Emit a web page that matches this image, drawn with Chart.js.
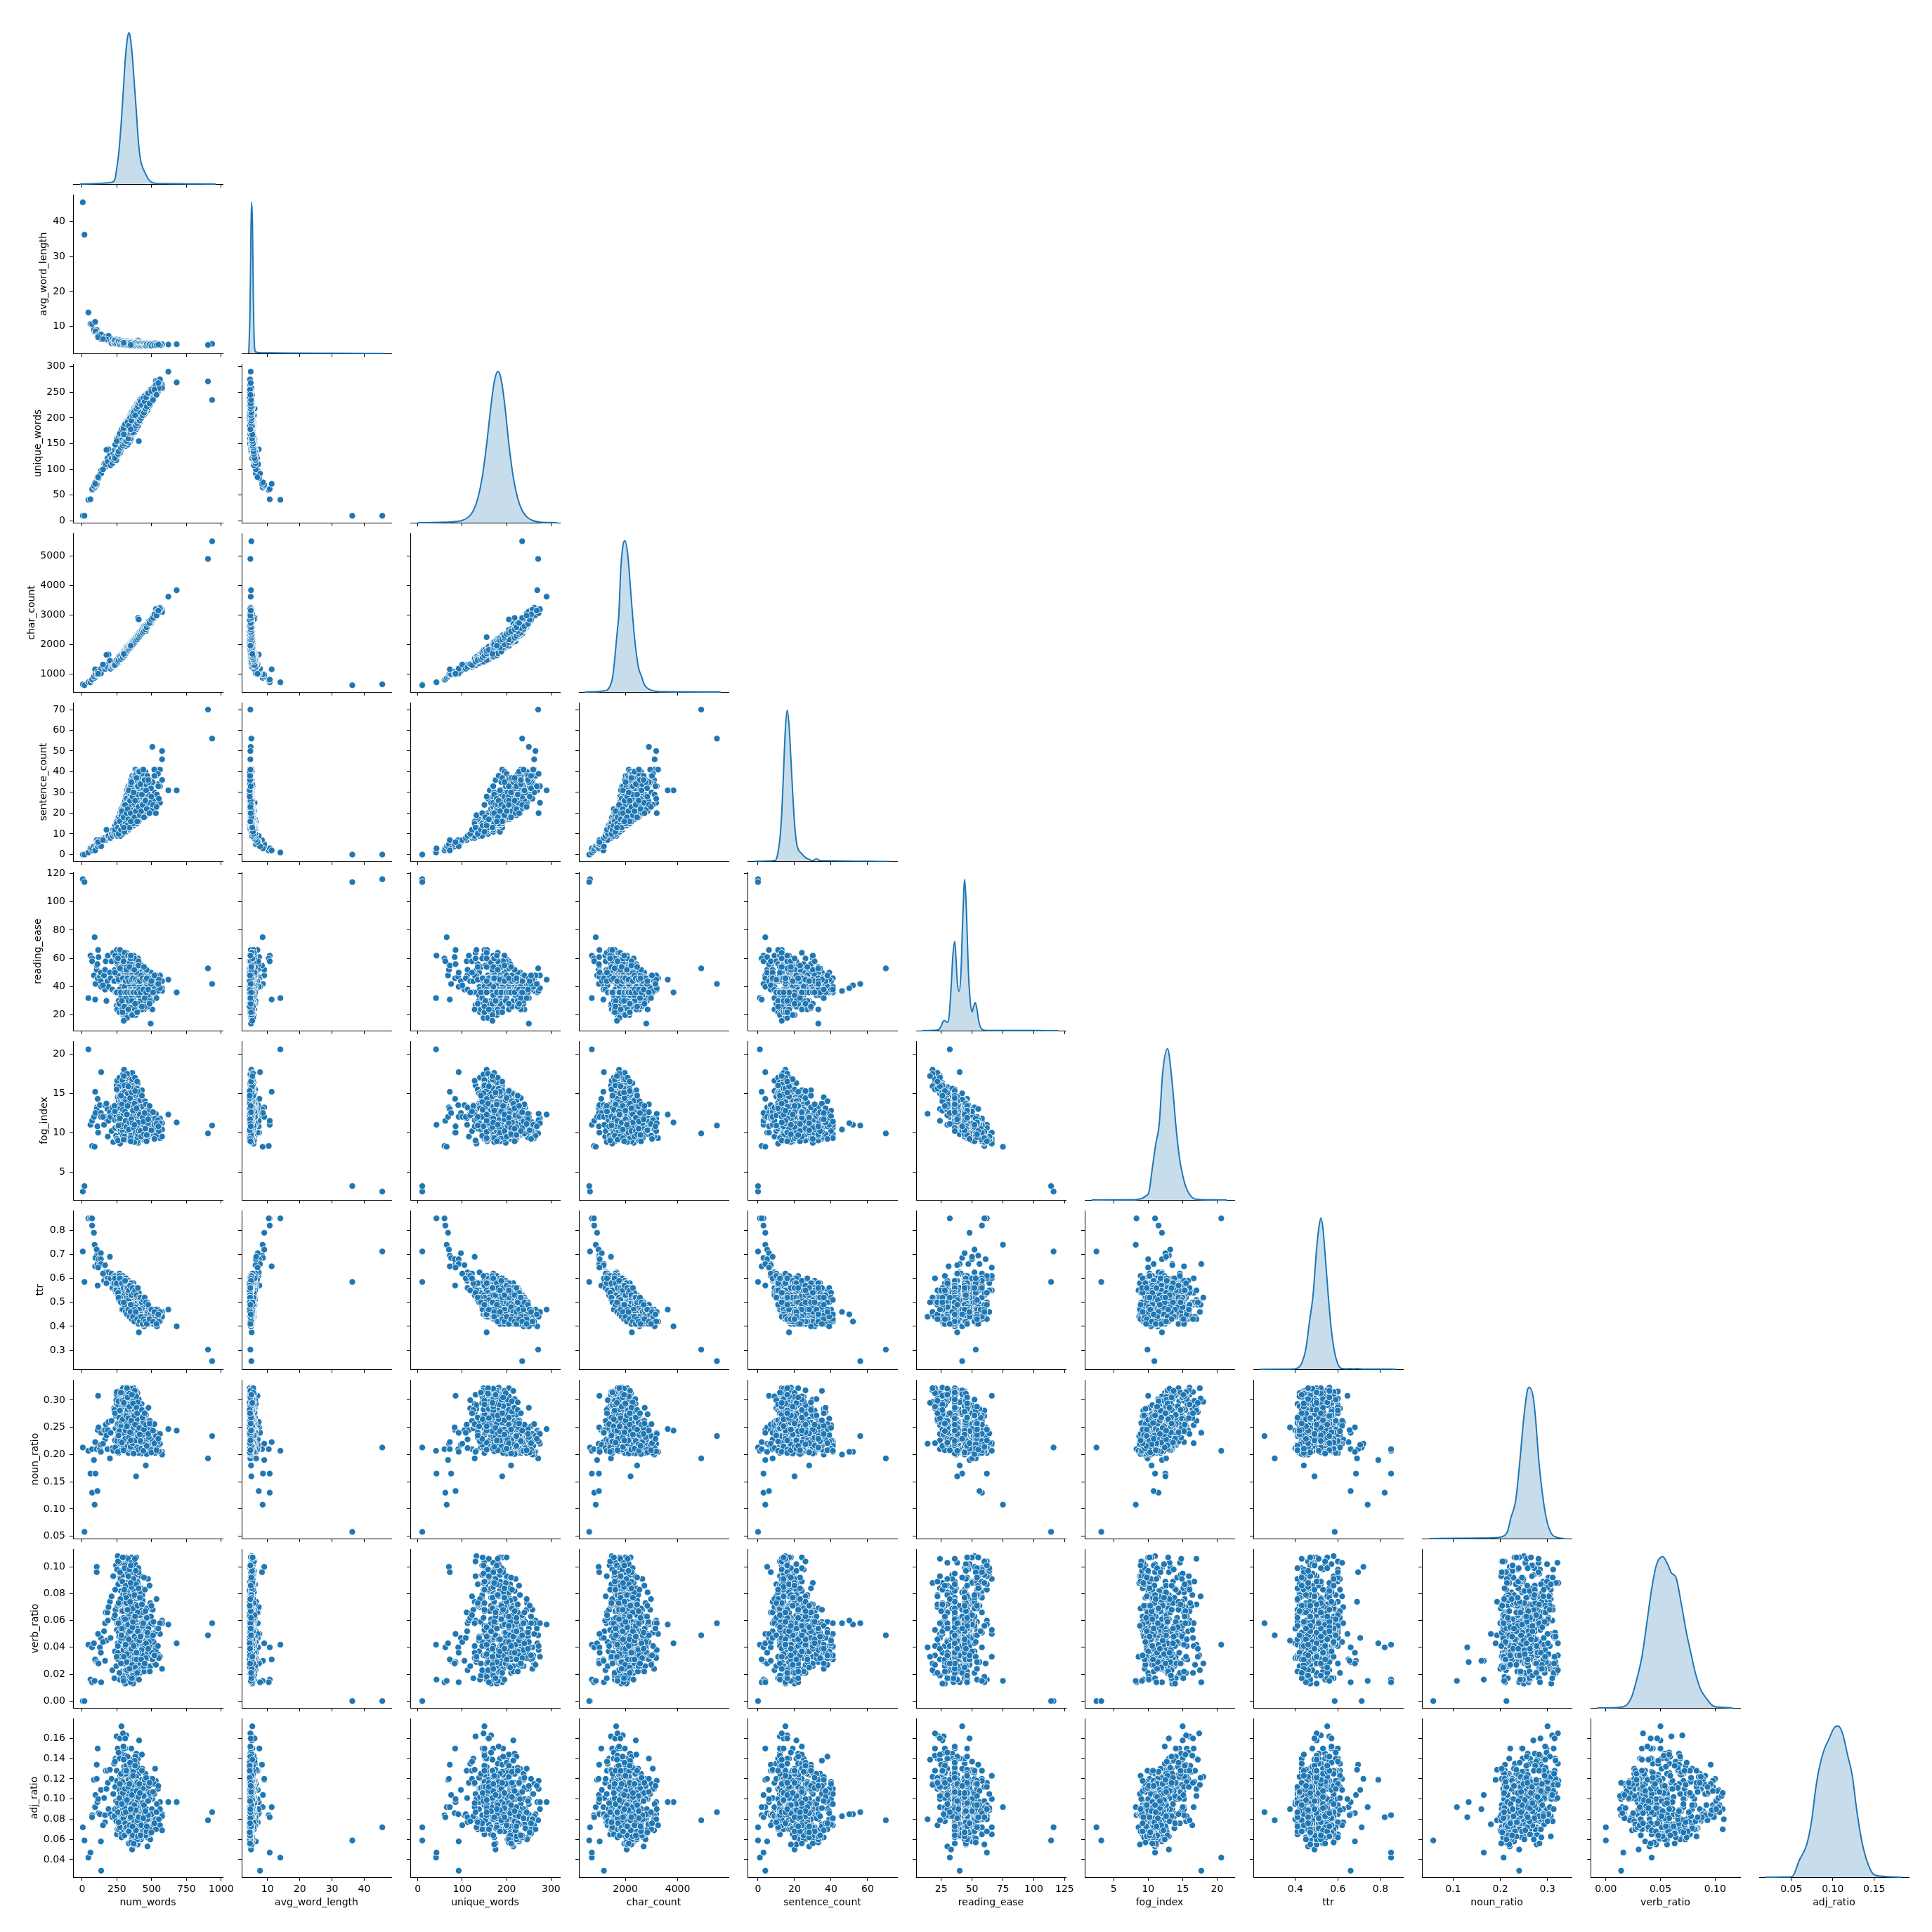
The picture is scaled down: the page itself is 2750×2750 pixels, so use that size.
<!DOCTYPE html>
<html>
<head>
<meta charset="utf-8">
<title>pairplot</title>
<script src="https://cdn.jsdelivr.net/npm/chart.js@4"></script>
<style>
html,body{margin:0;background:#fff}
#fig{position:relative;width:2750px;height:2750px;overflow:hidden}
canvas{position:absolute}
</style>
</head>
<body>
<div id="fig"></div>
<script>
const numWords = [
5,17,935,905,680,620,45,60,72,72, 90,85,105,105,96,94,110,112,118,128,
135,135,137,158,165,165,170,182,200,185, 190,175,115,150,493,505,505,575,575,530,
560,575,545,560,530,495,408,388,458,283, 248,318,410,470,360,256,355,390,310,370,
205,212,218,224,230,236,240,244,248,250, 252,256,260,264,268,272,276,280,283,285,
255,258,263,267,271,275,279,284,290,295, 260,265,270,274,278,282,287,291,296,300,
290,294,298,302,306,310,315,320,325,330, 295,299,304,308,312,316,321,326,331,335,
300,304,308,312,317,322,326,330,335,340, 310,314,318,322,326,330,335,340,345,350,
310,315,319,323,328,332,337,342,346,350, 320,324,328,332,337,341,346,350,355,360,
330,334,338,342,347,351,356,360,365,370, 340,344,348,352,357,361,366,370,375,380,
350,354,358,362,367,371,376,380,385,390, 350,355,359,363,368,372,377,382,386,390,
360,364,368,373,378,382,387,391,396,400, 370,374,378,383,388,392,397,401,406,410,
380,384,388,393,398,402,407,411,416,420, 390,394,399,403,408,413,417,421,426,430,
410,414,419,423,428,433,437,441,446,450, 420,425,431,436,441,446,451,456,463,470,
440,445,450,456,461,466,472,477,484,490, 470,475,481,486,491,496,502,508,514,520,
500,506,513,519,525,531,538,545,552,560, 270,285,300,315,330,345,360,375,390,405,
232,238,246,251,257,262,266,269,273,277, 281,284,288,292,294,297,299,301,303,305,
307,309,311,313,315,316,318,319,321,323, 324,325,327,329,331,333,334,336,338,339,
341,343,345,346,348,349,351,353,354,356, 357,359,361,362,364,366,367,369,371,372,
374,376,377,379,381,383,385,386,388,391, 393,395,397,399,401,403,405,407,409,412,
414,416,418,421,424,427,430,433,436,439, 443,447,452,458,464,469,474,480,487,495,
236,249,258,268,275,283,290,296,302,306, 310,314,317,320,323,326,328,331,334,337,
340,342,344,347,350,352,355,358,360,363, 365,368,370,373,375,378,380,382,384,387,
389,392,394,396,398,400,402,404,406,408, 262,272,279,286,293,298,304,309,313,318,
322,327,332,336,341,345,349,354,358,362, 366,371,376,381,386,391,396,401,406,411,
415,420,425,430,435,440,445,450,455,460, 465,475,485,498,510,520,535,548,300,350];
const avgWordLength = [
45.6,36.3,5,4.7,4.9,4.8,14,10.7,10.4,10.7, 8.5,9,9,8.3,8.6,11.3,7.3,7.5,7.4,7.1,
7,6.4,7.7,6.4,6.3,7,7.1,6.8,6.5,6, 7.3,6.3,6.9,6.4,4.9,5,4.8,4.7,4.7,4.8,
4.8,4.9,5,4.6,4.8,4.9,5.1,5,4.9,5.3, 5.2,5.1,5.1,4.9,4.9,5.1,5,4.8,5.2,5,
5.8,5.2,6.3,5.5,6.1,5,5.9,5.3,6.4,5.1, 5.7,5,6.2,5.4,4.9,6,5.2,5.8,5.1,5.5,
5,5.9,5.3,6.1,4.8,5.6,5.2,5.7,4.9,5.4, 5.5,4.8,5.9,5.1,5.7,4.9,6,5.3,4.8,5.6,
5.2,4.7,5.6,5,5.4,4.8,5.7,5.1,4.6,5.3, 4.9,5.5,4.7,5.2,4.6,5.4,5,4.8,5.6,4.7,
5.1,4.6,5.3,4.9,5.5,4.7,5.2,4.5,5,5.4, 5.3,4.8,5.5,4.6,5,5.6,4.7,5.2,4.9,4.5,
4.7,5.2,4.5,5,4.8,5.4,4.6,5.1,4.9,4.4, 5,4.5,5.3,4.8,5.5,4.6,5.1,4.4,4.9,5.4,
4.6,5.2,4.8,5.6,4.5,5,4.7,5.3,4.6,4.9, 5.1,4.5,5,4.7,5.4,4.6,5.2,4.8,4.5,5,
4.8,5.3,4.6,5.5,4.9,4.5,5.1,4.7,5.4,4.6, 4.5,5,4.8,5.2,4.6,5.3,4.7,5,4.5,4.9,
5.2,4.7,5.4,4.5,5,4.8,5.5,4.6,5.1,4.7, 4.6,4.9,4.4,5.1,4.7,5,4.5,4.8,5.2,4.6,
5,4.6,5.3,4.7,5.1,6,5.8,4.8,4.6,5, 4.5,5,4.7,5.2,4.6,4.9,4.4,5.1,4.8,4.6,
4.9,4.6,5.2,4.5,5,4.7,5.3,4.6,4.8,5.1, 4.6,4.8,4.5,5,4.7,4.9,4.5,5.1,4.6,4.8,
5,4.7,4.9,4.5,5.2,4.6,5,4.7,4.5,4.9, 4.7,5,4.6,5.1,4.8,4.5,5,4.7,4.9,4.6,
4.9,4.6,5,4.7,5.2,4.6,4.9,4.7,5,4.6, 5.1,5.4,4.8,5.2,4.6,5,4.7,5.3,4.5,4.9,
5.6,5.1,6.2,5.3,5.9,4.9,6.1,5.4,5.7,5, 5.5,4.8,5.9,5.2,5.6,4.7,5.8,5,5.3,4.9,
5.4,4.7,5.7,5,5.5,4.6,5.8,4.9,5.2,4.6, 5.3,4.6,5.6,4.8,5.4,4.5,5.6,4.9,5.1,4.6,
5.2,4.5,5.5,4.7,5.3,4.6,5.6,4.8,5,4.5, 5.2,4.6,5.4,4.7,5.1,4.5,5.3,4.4,5,4.6,
5.1,4.5,5.3,4.6,5,4.5,5.2,4.7,4.9,4.5, 5,4.5,5.2,4.6,5.3,4.4,5.1,4.7,4.9,4.5,
5,4.5,5.2,4.5,4.9,4.6,5.1,4.7,4.8,4.5, 4.9,4.6,5.1,4.5,5,4.7,4.8,4.6,5,4.5,
6,5.2,5.8,5,5.6,4.8,5.5,4.9,5.3,5.1, 5.4,4.7,5.5,4.8,5.6,4.6,5.2,4.7,5.4,4.9,
5.3,4.6,5.5,4.7,5.2,4.5,5.4,4.8,5.1,4.6, 5.2,4.6,5.4,4.5,5.1,4.7,5.3,4.6,5,4.5,
5.1,4.5,5.3,4.6,5,4.5,5.2,4.7,4.9,4.6, 5.7,4.9,5.6,5,5.4,4.8,5.5,4.9,5.2,4.7,
5.3,4.7,5.2,4.6,5.1,4.5,5.3,4.7,5,4.5, 5.1,4.6,5,4.5,5.2,4.6,4.9,4.7,5.1,4.5,
5,4.6,5.1,4.5,4.9,4.7,5,4.6,4.8,4.5, 4.9,4.6,4.8,4.5,4.9,4.6,4.7,4.8,5.3,4.7];
const uniqueWords = [
10,10,235,271,269,290,41,42,60,62, 65,68,70,72,75,72,85,84,83,91,
97,92,92,111,105,112,110,122,128,115, 139,138,85,100,250,240,250,265,262,258,
262,258,250,275,272,231,155,190,210,150, 130,165,215,215,175,132,190,200,165,190,
108,122,112,130,118,138,125,145,128,150, 128,146,135,152,140,158,145,163,150,168,
135,128,150,138,156,132,160,142,165,152, 132,150,140,158,145,165,150,172,155,175,
158,148,170,155,178,160,185,165,190,172, 145,168,155,175,160,183,165,190,170,195,
160,150,172,158,180,165,188,170,195,178, 150,175,160,182,165,190,170,198,178,200,
170,155,180,162,188,168,195,172,200,182, 160,180,168,188,172,195,178,205,185,208,
165,185,172,192,178,198,183,205,190,212, 185,170,195,175,202,182,208,188,212,195,
172,192,178,200,185,205,190,215,195,218, 190,170,198,178,205,185,210,192,218,198,
178,198,185,205,190,212,195,220,200,225, 200,182,208,190,215,195,222,200,228,205,
185,205,192,212,198,218,205,228,210,232, 205,190,212,198,220,202,228,208,235,215,
192,215,200,222,205,230,210,238,215,242, 205,225,210,232,215,238,220,245,225,248,
210,232,215,238,222,245,225,250,230,246, 222,245,228,250,232,255,238,258,242,262,
232,255,240,260,245,265,250,272,258,275, 155,145,170,178,160,205,175,220,185,230,
125,148,118,160,128,165,135,170,132,158, 138,172,142,178,145,182,148,185,152,170,
148,188,150,176,145,190,155,182,150,172, 155,195,148,185,160,198,158,175,165,200,
160,205,155,192,168,208,165,188,170,210, 165,212,172,198,168,205,178,215,170,190,
175,218,172,208,182,222,178,200,185,225, 180,228,185,212,190,230,188,218,195,232,
192,235,198,225,200,238,205,228,208,240, 205,242,212,235,218,248,220,250,225,255,
122,155,130,168,140,175,150,178,155,180, 145,185,150,178,158,188,148,195,152,182,
158,200,165,190,160,205,170,195,168,208, 170,212,175,202,172,215,180,208,182,220,
178,222,182,205,188,225,185,212,192,228, 135,170,142,178,146,180,150,188,155,168,
155,192,160,185,170,200,172,195,175,205, 172,210,180,205,185,218,190,222,195,228,
195,232,200,225,205,238,210,232,218,240, 222,248,228,252,235,255,245,268,168,178];
const charCount = [
650,620,5500,4900,3840,3620,720,720,800,810, 870,920,980,1000,990,1160,990,1080,1000,1010,
1100,1020,1180,1200,1170,1280,1300,1300,1450,1230, 1660,1650,1010,1320,2800,2850,2900,3180,3120,3100,
3250,3100,3100,3180,3200,2720,2250,2200,2450,1650, 1450,1900,2400,2700,2050,1480,2000,2200,1850,2080,
1180,1250,1240,1290,1320,1360,1380,1400,1450,1420, 1480,1500,1470,1540,1560,1610,1560,1640,1620,1680,
1450,1530,1500,1490,1600,1580,1560,1650,1620,1700, 1520,1490,1600,1580,1610,1560,1680,1640,1720,1700,
1650,1700,1670,1760,1730,1810,1780,1870,1830,1900, 1700,1680,1770,1740,1830,1790,1860,1830,1920,1880,
1720,1760,1740,1810,1800,1880,1830,1900,1870,1950, 1780,1830,1800,1880,1850,1940,1890,1960,1930,2020,
1760,1810,1860,1830,1900,1870,1950,1920,2000,1960, 1840,1800,1880,1930,1900,1980,1950,2020,1990,2060,
1900,1860,1950,1920,2000,1960,2050,2000,2090,2060, 1950,1920,2000,1980,2050,2010,2100,2060,2150,2110,
2000,1980,2060,2030,2110,2070,2170,2130,2200,2180, 1990,2050,2020,2100,2060,2160,2100,2210,2150,2190,
2050,2090,2060,2140,2120,2200,2150,2240,2190,2280, 2100,2080,2170,2130,2230,2180,2280,2230,2320,2290,
2150,2210,2170,2260,2220,2900,2850,2370,2310,2400, 2210,2250,2230,2320,2280,2380,2330,2420,2360,2470,
2320,2370,2340,2430,2390,2490,2440,2530,2480,2560, 2370,2440,2420,2510,2460,2540,2520,2600,2610,2680,
2480,2530,2500,2600,2560,2650,2620,2740,2700,2770, 2660,2700,2730,2780,2760,2850,2820,2950,2880,3000,
2800,2900,2880,2950,3050,2990,3120,3060,3180,3200, 1560,1640,1700,1800,1880,1950,2050,2110,2210,2300,
1290,1420,1330,1500,1380,1560,1470,1620,1500,1640, 1560,1700,1590,1730,1600,1760,1640,1800,1650,1790,
1680,1840,1700,1810,1730,1880,1740,1860,1760,1920, 1780,1950,1790,1900,1810,1980,1820,1960,1850,2010,
1850,2040,1870,2000,1900,2060,1920,2050,1950,2100, 1970,2120,1980,2090,2010,2150,2040,2170,2060,2130,
2090,2200,2100,2180,2130,2250,2150,2240,2180,2290, 2200,2320,2230,2300,2270,2360,2280,2380,2310,2420,
2330,2440,2350,2420,2380,2490,2420,2530,2450,2570, 2500,2620,2540,2640,2600,2700,2650,2780,2720,2830,
1300,1470,1420,1590,1500,1640,1600,1700,1680,1800, 1720,1820,1750,1860,1770,1900,1800,1910,1830,1960,
1880,2000,1900,1990,1930,2040,1950,2060,1990,2080, 2020,2140,2040,2120,2070,2180,2090,2170,2120,2210,
2140,2250,2160,2230,2190,2280,2210,2290,2240,2340, 1470,1590,1510,1630,1560,1700,1620,1760,1690,1820,
1780,1900,1820,1910,1860,1970,1910,2010,1950,2070, 2000,2130,2060,2170,2120,2230,2170,2290,2230,2350,
2290,2400,2350,2450,2400,2520,2450,2560,2510,2620, 2580,2700,2730,2840,2900,3020,2980,3150,1680,1960];
const sentenceCount = [
0,0,56,70,31,31,1,3,2,3, 4,4,5,7,3,2,6,4,5,7,
6,5,4,8,7,8,7,8,8,9, 9,12,6,7,33,33,52,50,46,41,
41,36,34,25,20,25,17,20,28,15, 12,16,21,28,20,15,18,17,20,22,
8,10,9,12,10,14,11,13,16,12, 9,12,10,13,11,14,9,15,12,13,
11,15,12,17,13,19,14,16,20,18, 12,18,14,20,13,22,16,19,15,21,
10,13,11,15,12,16,11,17,13,14, 14,20,16,23,15,24,17,21,19,18,
18,24,20,27,19,25,22,28,21,26, 12,15,13,18,14,20,12,17,15,19,
22,28,24,31,23,33,26,30,25,29, 14,19,16,22,15,20,17,21,14,18,
13,18,15,22,14,24,16,20,17,23, 25,33,28,36,26,38,30,35,27,32,
15,19,16,21,17,22,15,20,18,22, 16,23,18,26,17,24,20,25,19,22,
14,21,16,24,15,22,18,23,17,20, 30,38,33,41,31,40,35,39,32,37,
17,24,19,27,18,25,21,26,20,23, 18,27,21,30,19,28,23,29,22,25,
17,26,20,30,18,27,22,28,19,24, 28,37,31,41,29,39,33,40,30,36,
18,27,21,30,19,28,23,29,20,25, 20,32,24,36,22,33,27,35,23,30,
22,35,26,41,24,38,29,39,27,33, 11,20,14,26,16,30,18,34,22,38,
11,14,10,16,12,18,13,15,11,19, 13,20,12,22,14,24,16,21,13,25,
14,26,12,19,15,27,13,23,16,29, 12,21,15,28,13,31,17,24,14,30,
15,32,16,22,13,34,18,26,14,35, 16,27,14,33,19,36,15,29,17,37,
15,24,18,34,16,38,20,30,17,39, 16,26,19,36,21,40,18,32,20,38,
17,28,22,37,19,33,24,39,20,31, 18,30,21,34,23,38,20,35,25,32,
12,15,13,17,11,19,14,22,12,24, 15,20,13,27,16,23,14,30,18,26,
13,24,17,29,15,33,14,28,19,31, 16,25,14,30,18,35,15,28,21,36,
17,27,15,33,19,29,22,37,16,34, 10,16,12,21,14,18,11,24,15,20,
14,22,17,31,13,26,20,35,16,28, 15,30,18,26,21,37,16,33,23,40,
19,34,21,29,24,41,18,36,26,31, 22,36,20,28,24,38,23,33,13,16];
const readingEase = [
116,114,42,53,36,45,32,62,60,58, 75,48,52,55,42,31,56,46,61,47,
44,50,40,48,38,52,58,44,50,62, 40,30,66,41,14,24,41,39,37,40,
46,44,45,48,38,50,38,38,40,42, 27,22,26,30,33,52,55,50,28,35,
46,58,38,64,44,52,36,60,48,66, 24,36,28,44,22,48,32,38,26,50,
56,46,62,50,66,48,58,54,45,60, 36,44,38,46,34,47,40,45,36,48,
36,20,30,18,34,24,37,22,28,32, 46,54,44,52,46,55,43,50,46,54,
36,46,32,44,38,36,30,46,34,48, 28,44,36,26,45,34,30,46,38,36,
46,38,52,44,40,54,47,36,50,44, 54,46,60,48,62,52,47,58,46,54,
36,45,38,34,46,36,44,40,35,46, 44,36,50,40,46,36,52,44,38,47,
26,36,22,40,30,36,24,42,28,34, 46,54,44,60,48,54,46,56,50,45,
36,46,38,44,35,45,36,34,46,40, 44,38,48,36,46,42,50,37,45,40,
36,28,40,26,37,34,42,30,36,27, 46,54,45,60,47,52,46,56,48,45,
36,44,32,46,36,30,44,38,46,34, 44,37,48,40,46,36,50,43,38,47,
36,24,44,28,36,42,26,37,33,44, 44,36,47,32,38,46,30,45,36,48,
44,38,46,40,36,48,42,37,45,39, 30,46,20,42,54,38,58,36,48,44,
44,62,36,58,48,30,54,38,66,45, 34,52,24,46,60,36,28,45,55,40,
46,36,20,55,32,45,64,36,26,50, 54,44,18,46,36,58,28,45,36,52,
42,36,60,46,24,53,36,45,30,44, 36,48,22,45,56,36,26,44,62,42,
46,36,28,53,45,38,20,46,34,50, 36,45,58,36,26,44,54,34,46,40,
44,36,30,46,55,38,24,45,36,48, 45,36,26,44,52,36,34,46,30,42,
50,36,60,28,45,54,22,46,36,64, 36,46,26,54,18,44,36,62,30,46,
45,36,57,25,46,53,34,44,20,36, 46,36,30,45,60,36,24,44,54,36,
36,45,22,46,54,36,28,44,58,34, 45,53,36,30,46,58,26,36,44,52,
36,46,24,44,54,36,60,45,30,36, 46,36,52,28,45,36,22,44,55,38,
44,36,48,26,46,38,54,32,45,36, 46,38,28,44,36,48,32,42,16,62];
const fogIndex = [
2.5,3.2,10.9,9.9,11.3,12.3,20.6,11,8.3,11.5, 8.2,12,13.2,13,12.5,15.2,10.8,14.3,10,13.5,
12.5,12,17.7,11,13.5,12,11.8,13,12.6,9.5, 11.5,13.7,10,12,12.4,11.5,11,11.2,10.4,9.8,
9.3,9.5,10.4,11.8,12.4,9.7,12,12.5,10.5,15, 16,15.5,15,11,13,11,10,10.5,13.5,12,
12,10.2,13.2,8.8,12.4,11.6,13.5,9.6,12.3,9.2, 16.6,14.5,15.5,14,17,13,15.3,13.8,16,12.5,
10.5,11.6,9.2,11.2,8.9,11.8,10,10.4,12,9.5, 13.4,12,13.5,11.4,14.2,12.4,13,12.2,14,11,
14.6,17.4,15.2,18,14.8,16.5,13.8,17,15.6,14.9, 12.2,10.4,12,10.5,11.4,10.2,12.6,10.8,11.8,10,
12.8,11,14,11.6,13,13.3,14.4,11.2,13.4,10.8, 15.6,12.8,14.4,16,12.6,14.8,15.2,12.2,13.6,13.8,
11,12.4,10,10.8,12,9.6,10.6,12.6,9.9,11.2, 10.6,12,9.3,11.6,9,10.8,11.8,9.6,12.4,10.2,
14.2,12.2,13.4,14.4,11.8,13.6,12.4,13,14,12.6, 10.6,12,9.6,11.2,10,11.6,9.2,10.8,11.4,9.8,
15.8,14,16.4,13,15.2,14.4,16,13.4,15,14.8, 11.2,10,12,9,11,10.4,11.6,9.6,10.6,11.8,
13.8,11.8,13,12,14,12.2,13.4,14,11.4,12.6, 10,11.2,9.4,11.4,9.8,10.4,9.2,11,10.2,10.8,
13.2,14.8,12.4,15,12.8,13.6,12,14.2,13,14.4, 10.8,9.8,11.2,8.7,10.4,10,11.4,9.2,10.6,11,
12.6,11,13.4,10.6,12.2,13,11.4,12,10.8,13.2, 9.8,11,9.2,10.6,9.6,11.4,9,10.2,10.8,9.4,
12.6,13,11,13.2,12,11.2,12.8,11.8,12.4,10.6, 10.4,11.6,9.8,12,11.2,10,12.2,10.6,11.8,9.6,
10.6,11.4,9.8,11,11.8,9.6,10.4,11.6,10.2,11.2, 15,12,16.6,12.8,10.2,13,9.4,12.6,10.6,10.8,
13.4,10.6,12.2,9.2,10.8,15.8,12,14.6,8.6,10.4, 15,11.2,15,10.2,9.6,12.4,14.2,13.6,10.9,11.3,
10.8,15.2,16.4,11.6,13.4,13.8,9.1,11.7,14.4,12.2, 9.3,13.6,15.9,10,14.8,10.9,13.2,11.1,12.9,11.5,
14.2,12.1,10.1,12.9,17.2,9.7,15.1,10.5,13.1,12.5, 11.9,12.7,17.6,10.3,11,14.5,13.9,13.2,9.4,11.4,
13,11.6,15.7,9.9,12.3,14,15.5,10.6,14.7,11.1, 14.9,10.9,8.9,12.5,16.3,12.8,11.3,13.5,10.1,11.8,
12.6,10.7,14.1,9.8,9.5,13.3,15.4,11,12,9.9, 11.7,10.9,14,10.6,8.9,12.4,11.2,10.1,12.9,10.3,
12.7,15.5,9,14.6,13.1,10.8,16.7,11,14.3,9.5, 13.9,12.6,16.1,11.4,17.5,10.6,15,9.2,13.3,11.6,
13.7,11.9,10.5,15.4,11.2,9.6,15.6,12.1,16.8,12.8, 13.3,11.5,14.9,10.8,8.8,13.7,17,11.9,11.1,12.2,
15.3,10.7,15.6,12.4,9.4,13.2,15.2,11.3,10,12.6, 10.9,11.8,14.7,13.6,12.9,9.1,16,12.7,11.5,10.7,
12.3,13.4,15.9,10.4,11.3,14.4,9.3,11.7,15.1,11.2, 12.8,10.6,11,15.3,10,13.1,16.5,9.8,10.2,12.1,
12.3,10.2,9.5,14.7,11.9,11.4,9.8,12.5,10.5,13.6, 9.7,11.7,13.4,10.3,12.6,9.2,11.1,10.8,17.2,8.9];
const ttr = [
.712,.585,.255,.303,.4,.47,.85,.85,.85,.82, .74,.79,.72,.695,.685,.65,.66,.57,.68,.66,
.705,.68,.66,.59,.655,.625,.61,.595,.69,.6, .625,.58,.645,.62,.44,.43,.42,.45,.46,.43,
.42,.44,.47,.455,.46,.47,.375,.49,.44,.55, .56,.52,.5,.46,.49,.58,.5,.48,.5,.47,
.6,.62,.56,.58,.61,.55,.59,.54,.57,.6, .54,.58,.52,.6,.55,.57,.53,.59,.54,.6,
.58,.53,.6,.55,.61,.52,.57,.54,.58,.53, .52,.57,.54,.6,.52,.58,.53,.59,.55,.57,
.54,.5,.57,.52,.58,.49,.56,.51,.58,.53, .5,.56,.52,.57,.49,.55,.53,.51,.57,.48,
.52,.47,.55,.5,.56,.48,.54,.49,.55,.51, .48,.55,.5,.56,.47,.54,.51,.49,.55,.52,
.53,.46,.55,.49,.54,.47,.52,.5,.55,.48, .47,.54,.49,.55,.5,.53,.46,.52,.54,.48,
.49,.54,.46,.55,.48,.52,.45,.53,.5,.54, .52,.45,.54,.47,.53,.46,.5,.44,.52,.48,
.46,.53,.49,.54,.45,.52,.47,.53,.44,.51, .51,.44,.53,.46,.52,.45,.5,.43,.52,.47,
.45,.52,.43,.53,.47,.5,.44,.52,.46,.49, .5,.43,.49,.45,.48,.42,.5,.44,.47,.46,
.43,.51,.45,.52,.42,.49,.44,.5,.46,.41, .49,.43,.5,.44,.48,.42,.47,.45,.5,.43,
.42,.49,.44,.5,.41,.47,.45,.48,.43,.49, .47,.41,.48,.43,.46,.4,.44,.47,.42,.45,
.43,.48,.41,.47,.44,.46,.42,.48,.41,.45, .46,.41,.47,.43,.45,.42,.47,.41,.44,.46,
.44,.47,.41,.45,.43,.47,.4,.44,.42,.46, .59,.47,.6,.5,.46,.54,.43,.55,.44,.52,
.58,.61,.55,.6,.53,.59,.51,.62,.55,.58, .5,.6,.52,.61,.49,.57,.53,.6,.48,.56,
.47,.59,.5,.56,.48,.6,.46,.57,.52,.58, .47,.58,.45,.55,.51,.59,.46,.53,.49,.58,
.46,.57,.44,.55,.49,.58,.45,.53,.48,.56, .45,.57,.49,.54,.44,.55,.47,.58,.43,.52,
.45,.56,.43,.54,.48,.55,.44,.52,.46,.56, .43,.55,.46,.52,.44,.54,.41,.53,.47,.51,
.42,.53,.45,.51,.43,.52,.44,.5,.41,.52, .42,.51,.44,.49,.43,.5,.41,.48,.42,.47,
.6,.58,.54,.61,.52,.59,.5,.57,.48,.55, .47,.58,.49,.56,.46,.57,.48,.54,.45,.55,
.44,.57,.47,.55,.45,.58,.46,.53,.44,.56, .46,.55,.44,.54,.47,.56,.43,.55,.45,.53,
.42,.54,.45,.52,.43,.55,.41,.53,.44,.54, .52,.6,.5,.58,.47,.56,.49,.59,.46,.56,
.45,.56,.47,.55,.44,.57,.46,.53,.43,.56, .44,.54,.42,.55,.46,.53,.43,.56,.41,.52,
.42,.52,.44,.5,.41,.51,.43,.52,.42,.5, .41,.49,.43,.47,.42,.46,.41,.45,.5,.49];
const nounRatio = [
.213,.058,.234,.193,.244,.247,.207,.165,.21,.13, .108,.19,.22,.21,.165,.223,.133,.245,.25,.21,
.218,.205,.24,.245,.245,.228,.255,.21,.193,.245, .26,.235,.308,.22,.22,.21,.205,.205,.2,.225,
.205,.2,.215,.22,.24,.23,.25,.16,.18,.3, .31,.31,.27,.22,.24,.25,.23,.24,.25,.26,
.24,.262,.212,.207,.285,.226,.248,.271,.293,.218, .254,.298,.241,.316,.262,.285,.307,.249,.273,.291,
.232,.276,.203,.258,.221,.284,.244,.213,.267,.238, .291,.214,.263,.302,.225,.278,.236,.305,.217,.254,
.258,.322,.246,.297,.274,.315,.261,.288,.251,.303, .268,.226,.279,.206,.253,.234,.283,.219,.262,.242,
.296,.218,.257,.283,.229,.306,.241,.272,.209,.264, .247,.311,.259,.323,.276,.252,.299,.265,.318,.283,
.273,.214,.252,.281,.227,.261,.207,.246,.271,.235, .264,.218,.281,.243,.209,.272,.226,.255,.237,.286,
.234,.302,.261,.224,.292,.248,.313,.217,.276,.255, .263,.211,.248,.277,.226,.208,.255,.239,.219,.268,
.244,.313,.267,.296,.252,.322,.238,.284,.305,.258, .276,.228,.243,.209,.268,.251,.214,.284,.236,.262,
.218,.293,.247,.307,.262,.226,.317,.254,.283,.239, .248,.209,.261,.223,.237,.254,.213,.266,.229,.243,
.305,.231,.282,.246,.313,.219,.274,.258,.294,.237, .262,.212,.277,.234,.206,.256,.224,.271,.241,.215,
.238,.286,.214,.271,.293,.229,.263,.206,.278,.247, .232,.207,.254,.219,.241,.211,.258,.226,.203,.245,
.281,.226,.262,.208,.273,.244,.216,.286,.234,.251, .246,.211,.263,.228,.203,.252,.219,.238,.207,.256,
.228,.209,.241,.216,.203,.234,.212,.224,.206,.238, .263,.294,.221,.318,.243,.209,.272,.234,.291,.254,
.282,.213,.3,.225,.256,.298,.268,.253,.207,.244, .252,.287,.312,.236,.218,.295,.263,.303,.273,.229,
.267,.246,.285,.218,.316,.237,.222,.279,.258,.206, .248,.229,.318,.264,.256,.203,.297,.283,.215,.301,
.311,.272,.209,.238,.278,.241,.264,.274,.321,.217, .293,.226,.303,.254,.212,.243,.308,.259,.233,.277,
.234,.262,.291,.219,.299,.256,.313,.204,.271,.247, .266,.221,.238,.284,.295,.211,.258,.302,.242,.208,
.289,.206,.274,.227,.202,.251,.282,.236,.218,.243, .259,.212,.273,.223,.201,.247,.214,.232,.262,.209,
.276,.315,.205,.243,.224,.262,.299,.216,.289,.239, .229,.306,.274,.257,.322,.215,.283,.246,.241,.291,
.312,.222,.268,.259,.284,.211,.302,.239,.288,.217, .268,.298,.249,.227,.219,.317,.281,.206,.275,.253,
.307,.258,.265,.213,.236,.296,.243,.279,.203,.228, .235,.281,.314,.222,.265,.208,.292,.301,.244,.271,
.252,.305,.267,.231,.288,.241,.214,.263,.31,.221, .294,.202,.272,.255,.226,.286,.276,.234,.209,.249,
.237,.225,.211,.282,.268,.207,.246,.276,.219,.255, .216,.238,.257,.204,.244,.221,.208,.229,.295,.226];
const verbRatio = [
0,0,.058,.049,.043,.057,.042,.016,.014,.04, .015,.043,.1,.096,.03,.031,.029,.05,.028,.04,
.047,.036,.014,.052,.03,.058,.066,.066,.074,.06, .07,.045,.05,.044,.04,.05,.057,.06,.058,.04,
.05,.024,.035,.033,.038,.045,.045,.03,.05,.05, .06,.07,.05,.04,.03,.108,.107,.107,.013,.014,
.047,.078,.023,.093,.062,.037,.068,.101,.032,.053, .058,.043,.087,.051,.072,.041,.076,.054,.067,.089,
.071,.036,.104,.048,.091,.029,.082,.059,.042,.098, .031,.073,.016,.092,.044,.061,.022,.079,.052,.102,
.049,.034,.081,.028,.069,.047,.084,.042,.063,.074, .079,.052,.099,.058,.038,.107,.071,.088,.046,.083,
.033,.056,.017,.044,.061,.024,.072,.031,.051,.039, .041,.068,.019,.088,.057,.028,.086,.064,.026,.077,
.032,.048,.021,.067,.042,.069,.027,.053,.036,.062, .083,.061,.103,.072,.093,.056,.098,.077,.064,.087,
.029,.062,.016,.081,.047,.089,.023,.071,.034,.054, .041,.029,.059,.036,.056,.027,.063,.046,.051,.038,
.052,.033,.079,.031,.066,.043,.084,.026,.071,.054, .069,.092,.048,.104,.061,.082,.039,.098,.076,.067,
.026,.058,.041,.083,.017,.072,.029,.049,.078,.036, .044,.036,.053,.031,.051,.042,.059,.033,.047,.039,
.041,.058,.024,.071,.048,.032,.081,.044,.021,.056, .059,.078,.046,.088,.054,.071,.049,.084,.041,.066,
.034,.056,.026,.068,.042,.079,.031,.061,.022,.049, .051,.034,.059,.041,.054,.032,.057,.046,.033,.048,
.039,.031,.064,.026,.052,.068,.036,.054,.046,.073, .049,.032,.063,.041,.026,.058,.036,.068,.044,.028,
.046,.031,.059,.034,.051,.027,.054,.041,.032,.058, .056,.074,.041,.021,.089,.051,.099,.034,.066,.032,
.017,.083,.026,.098,.041,.058,.072,.103,.033,.091, .047,.074,.019,.067,.094,.038,.062,.028,.086,.052,
.101,.042,.053,.079,.023,.056,.097,.034,.068,.047, .016,.073,.088,.037,.106,.051,.029,.063,.077,.043,
.092,.054,.018,.069,.039,.033,.084,.046,.103,.057, .024,.061,.078,.044,.096,.036,.013,.052,.087,.041,
.066,.082,.031,.049,.102,.059,.021,.072,.094,.037, .048,.027,.089,.056,.071,.043,.099,.035,.016,.053,
.081,.064,.028,.047,.093,.038,.058,.034,.075,.066, .026,.059,.083,.032,.069,.051,.091,.044,.022,.063,
.064,.033,.104,.021,.076,.049,.089,.017,.055,.099, .041,.086,.073,.029,.023,.061,.095,.057,.034,.078,
.098,.037,.052,.067,.014,.044,.085,.071,.027,.059, .019,.069,.091,.039,.056,.048,.106,.025,.079,.042,
.087,.031,.046,.054,.071,.066,.022,.036,.096,.051, .073,.096,.028,.054,.107,.015,.083,.061,.042,.077,
.035,.068,.093,.046,.024,.074,.088,.039,.017,.055, .059,.041,.079,.063,.097,.036,.021,.052,.084,.045,
.077,.048,.031,.072,.056,.058,.092,.028,.067,.043, .062,.039,.086,.071,.049,.034,.076,.054,.033,.101];
const adjRatio = [
.072,.059,.087,.079,.097,.097,.042,.047,.084,.082, .092,.119,.12,.134,.104,.092,.097,.15,.086,.085,
.109,.058,.029,.101,.084,.077,.128,.128,.129,.116, .09,.11,.1,.074,.08,.1,.085,.085,.083,.08,
.074,.069,.11,.097,.118,.107,.09,.09,.075,.172, .162,.163,.158,.053,.05,.08,.07,.09,.09,.1,
.085,.12,.082,.105,.135,.09,.14,.098,.115,.065, .092,.15,.078,.14,.11,.16,.083,.1,.145,.088,
.07,.116,.094,.097,.123,.078,.08,.11,.065,.112, .1,.07,.102,.085,.12,.065,.118,.09,.11,.088,
.076,.165,.1,.122,.088,.16,.071,.14,.083,.105, .07,.112,.095,.126,.075,.09,.118,.082,.095,.08,
.09,.125,.085,.11,.085,.108,.1,.08,.12,.07, .15,.078,.112,.118,.072,.125,.09,.075,.118,.083,
.08,.124,.08,.115,.07,.09,.078,.105,.128,.075, .07,.118,.092,.126,.083,.105,.089,.065,.113,.11,
.112,.085,.105,.1,.075,.12,.117,.063,.11,.07, .09,.122,.075,.115,.06,.1,.07,.11,.066,.095,
.12,.15,.074,.14,.084,.135,.079,.13,.092,.145, .08,.082,.121,.087,.09,.07,.105,.094,.116,.075,
.11,.075,.14,.063,.115,.06,.12,.1,.07,.115, .09,.105,.066,.11,.085,.1,.075,.095,.058,.103,
.105,.135,.082,.125,.09,.14,.07,.115,.1,.085, .07,.117,.055,.085,.065,.1,.06,.108,.09,.08,
.095,.07,.118,.06,.105,.13,.08,.11,.079,.09, .085,.105,.07,.095,.11,.08,.1,.075,.09,.062,
.09,.115,.065,.125,.085,.07,.105,.08,.1,.06, .08,.11,.065,.1,.12,.07,.09,.105,.075,.115,
.085,.12,.075,.105,.13,.07,.095,.11,.08,.09, .14,.08,.15,.1,.083,.115,.086,.125,.085,.09,
.083,.112,.078,.118,.096,.146,.074,.109,.072,.105, .121,.062,.111,.089,.084,.152,.102,.116,.079,.064,
.098,.127,.143,.071,.106,.077,.089,.109,.124,.087, .084,.114,.115,.093,.104,.072,.119,.056,.104,.126,
.113,.081,.091,.124,.139,.07,.107,.091,.101,.073, .101,.067,.121,.085,.082,.122,.103,.113,.08,.097,
.129,.078,.126,.061,.108,.142,.114,.069,.107,.088, .135,.075,.085,.099,.127,.117,.082,.125,.083,.106,
.094,.062,.115,.076,.079,.119,.144,.086,.068,.111, .103,.071,.116,.064,.068,.098,.084,.113,.106,.066,
.137,.128,.087,.101,.078,.118,.117,.081,.132,.091, .076,.125,.133,.072,.114,.097,.112,.068,.112,.083,
.108,.074,.088,.134,.116,.057,.122,.095,.128,.064, .108,.127,.114,.072,.055,.138,.103,.086,.103,.069,
.122,.092,.117,.06,.079,.131,.112,.102,.085,.083, .077,.115,.125,.095,.106,.086,.128,.11,.087,.128,
.099,.142,.112,.068,.115,.136,.082,.091,.104,.073, .123,.056,.094,.133,.089,.108,.116,.063,.082,.115,
.106,.064,.074,.128,.096,.081,.094,.119,.088,.121, .073,.098,.116,.067,.107,.076,.087,.113,.139,.09];

// density curves of the diagonal (peak = 1)
const kdeNumX = [-17,100,180,215,235,250,265,280,295,310,325,336,345,360,375,390,405,420,440,455,475,500,540,600,700,850,960];
const kdeNumY = [0,.003,.008,.012,.03,.11,.22,.39,.6,.82,.96,1,.98,.86,.67,.48,.28,.16,.1,.07,.035,.012,.004,.003,.002,.001,0];
const kdeAvgX = [4.2,4.6,4.9,5.1,5.35,5.6,5.9,6.3,8,15,30,46];
const kdeAvgY = [0,.3,.85,1,.85,.4,.08,.01,.004,.002,.001,0];
const kdeUniqueX = [0,60,100,115,125,135,145,155,165,172,180,186,195,205,215,225,235,245,258,275,300,314];
const kdeUniqueY = [0,.003,.015,.04,.08,.16,.3,.52,.78,.93,1,.97,.8,.52,.3,.16,.08,.04,.015,.004,.001,0];
const kdeCharX = [450,1000,1200,1300,1416,1517,1606,1695,1748,1828,1920,1985,2097,2225,2360,2505,2616,2724,2858,3126,3500,4500,5640];
const kdeCharY = [0,.004,.008,.012,.04,.1,.24,.41,.5,.82,.98,1,.9,.62,.345,.16,.105,.05,.023,.006,.002,.001,0];
const kdeSentX = [-2,5,9.5,10.8,12,13,14,15,16,17,18,19,20,21,22,24,26,28,30,32,34,38,45,60,72];
const kdeSentY = [0,.002,.006,.05,.15,.32,.6,.88,1,.9,.68,.45,.25,.13,.08,.05,.025,.012,.005,.016,.005,.003,.002,.001,0];
const kdeReadX = [9.5,20,23,25,26.5,27.6,29,30.2,31.5,33,34.5,36,37,38,39.5,41,42.5,44.1,45.5,47,48.5,50,51.3,52.6,54,55.5,57,59,65,80,100,120];
const kdeReadY = [0,.002,.006,.03,.06,.067,.06,.055,.1,.28,.5,.59,.48,.33,.26,.38,.75,1,.78,.4,.2,.124,.16,.186,.14,.06,.02,.004,.001,.001,.001,0];
const kdeFogX = [1.8,7,8.5,9.2,9.6,10.1,10.6,11.1,11.6,12.1,12.8,13.45,14,14.5,15.3,16.1,17,19,21.4];
const kdeFogY = [0,.001,.004,.012,.025,.05,.21,.37,.5,.84,1,.79,.5,.29,.11,.03,.005,.001,0];
const kdeTtrX = [.235,.38,.41,.43,.45,.465,.484,.5,.51,.52,.53,.54,.554,.57,.585,.6,.615,.64,.656,.675,.693,.72,.85,.873];
const kdeTtrY = [0,.001,.008,.04,.14,.3,.5,.8,.93,1,.93,.76,.5,.25,.11,.035,.006,.002,.004,.002,.004,.001,.001,0];
const kdeNounX = [.049,.12,.16,.185,.203,.215,.2226,.2325,.241,.2498,.2573,.2612,.2695,.2745,.282,.2895,.297,.307,.3193,.3366];
const kdeNounY = [0,.002,.003,.005,.012,.046,.14,.25,.5,.8,.98,1,.94,.8,.5,.29,.14,.04,.008,0];
const kdeVerbX = [-.008,.01,.016,.0196,.024,.0285,.033,.0375,.042,.0465,.052,.0566,.06,.0643,.0688,.0733,.0778,.0823,.0867,.0912,.098,.107,.116];
const kdeVerbY = [0,.002,.008,.023,.08,.195,.337,.56,.79,.95,1,.95,.893,.861,.7,.515,.364,.222,.124,.071,.014,.003,0];
const kdeAdjX = [.0188,.04,.0509,.0598,.0688,.0747,.0792,.0836,.0896,.0955,.1015,.1065,.1119,.1179,.1238,.1283,.1327,.1372,.1432,.1491,.158,.1833];
const kdeAdjY = [0,.001,.004,.114,.22,.38,.577,.72,.843,.915,.986,1,.95,.808,.665,.47,.31,.185,.078,.02,.007,0];

const varNames = ['num_words','avg_word_length','unique_words','char_count','sentence_count','reading_ease','fog_index','ttr','noun_ratio','verb_ratio','adj_ratio'];
const columns = [numWords,avgWordLength,uniqueWords,charCount,sentenceCount,readingEase,fogIndex,ttr,nounRatio,verbRatio,adjRatio];
const kdeXs = [kdeNumX,kdeAvgX,kdeUniqueX,kdeCharX,kdeSentX,kdeReadX,kdeFogX,kdeTtrX,kdeNounX,kdeVerbX,kdeAdjX];
const kdeYs = [kdeNumY,kdeAvgY,kdeUniqueY,kdeCharY,kdeSentY,kdeReadY,kdeFogY,kdeTtrY,kdeNounY,kdeVerbY,kdeAdjY];

// axis limits
const xLimits = [[-65,1011],[2,48.4],[-17,320],[225,5944],[-5.76,76.2],[4.7,125.9],[.8,22.5],[.2026,.906],[.034,.351],[-.014,.123],[.0112,.1918]];
const yLimits = [[0,1.05],[2.27,47.8],[-3.5,305],[390,5771],[-3.26,73.4],[9,121.2],[1.43,21.64],[.221,.883],[.0457,.3374],[-.0051,.1132],[.0226,.1798]];

// tick values and labels
const xTicks = [[0,250,500,750,1000],[10,20,30,40],[0,100,200,300],[2000,4000],[0,20,40,60],[25,50,75,100,125],[5,10,15,20],[.4,.6,.8],[.1,.2,.3],[0,.05,.1],[.05,.1,.15]];
const xTickLabels = [['0','250','500','750','1000'],['10','20','30','40'],['0','100','200','300'],['2000','4000'],['0','20','40','60'],['25','50','75','100','125'],['5','10','15','20'],['0.4','0.6','0.8'],['0.1','0.2','0.3'],['0.00','0.05','0.10'],['0.05','0.10','0.15']];
const yTicks = [[],[10,20,30,40],[0,50,100,150,200,250,300],[1000,2000,3000,4000,5000],[0,10,20,30,40,50,60,70],[20,40,60,80,100,120],[5,10,15,20],[.3,.4,.5,.6,.7,.8],[.05,.1,.15,.2,.25,.3],[0,.02,.04,.06,.08,.1],[.04,.06,.08,.1,.12,.14,.16]];
const yTickLabels = [[],['10','20','30','40'],['0','50','100','150','200','250','300'],['1000','2000','3000','4000','5000'],['0','10','20','30','40','50','60','70'],['20','40','60','80','100','120'],['5','10','15','20'],['0.3','0.4','0.5','0.6','0.7','0.8'],['0.05','0.10','0.15','0.20','0.25','0.30'],['0.00','0.02','0.04','0.06','0.08','0.10'],['0.04','0.06','0.08','0.10','0.12','0.14','0.16']];

// figure layout in px
const panelW = 213, panelH = 226, colStep = 240, rowStep = 241;
const firstLeft = 104, lastBottom = 2672;
const yTitleX = [0,62.5,54.5,45,62,54.4,63,57.3,50.7,50,49];
const padTop = 12, padRight = 24, innerLeft = 10, innerBottom = 10;

Chart.defaults.font.family = '"DejaVu Sans"';
Chart.defaults.font.size = 14;
Chart.defaults.color = '#000';
Chart.defaults.animation = false;

function xScale(col, isBottom, bottomMargin){
  return {
    type:'linear', bounds:'data', min:xLimits[col][0], max:xLimits[col][1],
    border:{display:true,color:'#000',width:1},
    grid:{drawOnChartArea:false,drawTicks:true,tickLength:5,tickColor:'#000',tickWidth:1},
    ticks:{display:isBottom,autoSkip:false,maxRotation:0,minRotation:0,padding:4,callback:(v,i)=>xTickLabels[col][i]},
    title:{display:isBottom,text:varNames[col],padding:{top:0,bottom:33.6}},
    afterBuildTicks:s=>{ s.ticks = xTicks[col].map(value=>({value})); },
    afterFit:s=>{ s.height = bottomMargin; s.paddingLeft = 0; s.paddingRight = 0; }
  };
}
function yScale(row, isFirst, isDiag, leftMargin){
  return {
    type:'linear', bounds:'data', min:yLimits[isDiag?0:row][0], max:yLimits[isDiag?0:row][1],
    border:{display:!isDiag,color:'#000',width:1},
    grid:{drawOnChartArea:false,drawTicks:!isDiag,tickLength:5,tickColor:'#000',tickWidth:1},
    ticks:{display:isFirst&&!isDiag,autoSkip:false,padding:6,callback:(v,i)=>yTickLabels[row][i]},
    title:{display:isFirst&&!isDiag,text:varNames[row],padding:{top:yTitleX[row]-8.4,bottom:0}},
    afterBuildTicks:s=>{ s.ticks = isDiag ? [] : yTicks[row].map(value=>({value})); },
    // tick labels would otherwise shrink the plot area
    afterFit:s=>{ s.width = leftMargin; s.paddingTop = 0; s.paddingBottom = 0; }
  };
}

function drawPanel(row, col){
  const isFirst = col===0, isBottom = row===10, isDiag = row===col;
  const leftMargin = isFirst ? firstLeft : innerLeft;
  const bottomMargin = isBottom ? 2750-lastBottom : innerBottom;
  const cv = document.createElement('canvas');
  cv.width = leftMargin+panelW+padRight;
  cv.height = padTop+panelH+bottomMargin;
  cv.style.left = (firstLeft+col*colStep-leftMargin)+'px';
  cv.style.top = (lastBottom-(10-row)*rowStep-panelH-padTop)+'px';
  document.getElementById('fig').appendChild(cv);

  let dataset;
  if(isDiag){
    dataset = {
      data:kdeXs[col].map((v,k)=>({x:v,y:kdeYs[col][k]})),
      showLine:true, fill:'origin', cubicInterpolationMode:'monotone',
      borderColor:'#1f77b4', borderWidth:2, backgroundColor:'rgba(31,119,180,0.25)',
      pointRadius:0, clip:false
    };
  }else{
    dataset = {
      data:columns[col].map((v,k)=>({x:v,y:columns[row][k]})),
      backgroundColor:'#1f77b4', borderColor:'#fff', borderWidth:.9,
      pointRadius:4.6, clip:false
    };
  }
  new Chart(cv, {
    type:'scatter',
    data:{datasets:[dataset]},
    options:{
      responsive:false, devicePixelRatio:1, events:[],
      layout:{autoPadding:false,padding:{left:0,top:padTop,right:padRight,bottom:0}},
      plugins:{legend:{display:false},tooltip:{enabled:false}},
      scales:{x:xScale(col,isBottom,bottomMargin), y:yScale(row,isFirst,isDiag,leftMargin)}
    }
  });
}

for(let r=0;r<11;r++){
  for(let c=0;c<=r;c++) drawPanel(r,c);
}
</script>
</body>
</html>
